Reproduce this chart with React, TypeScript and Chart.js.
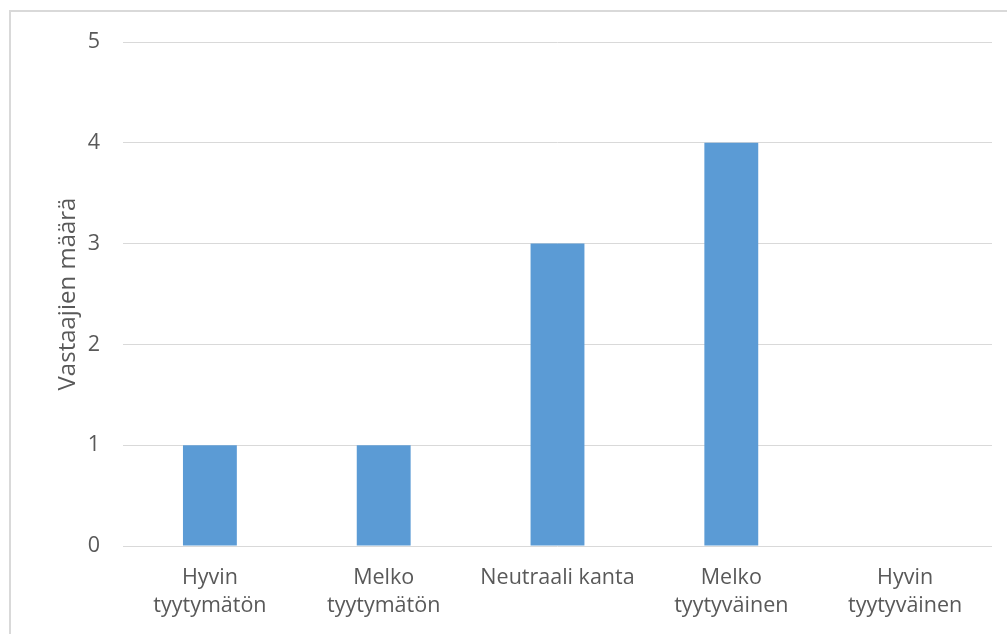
import React, { useEffect, useRef } from "react";
import { Chart, registerables } from "chart.js";

Chart.register(...registerables);

const categories: string[][] = [
  ["Hyvin", "tyytymätön"],
  ["Melko", "tyytymätön"],
  ["Neutraali kanta"],
  ["Melko", "tyytyväinen"],
  ["Hyvin", "tyytyväinen"],
];
const respondents: number[] = [1, 1, 3, 4, 0];
const yTicks: number[] = [0, 1, 2, 3, 4, 5];
const yTitle = "Vastaajien määrä";

const FONT = "'Open Sans', 'Noto Sans', sans-serif";
const TEXT = "#595959";
const GRID = "#d9d9d9";
const BAR = "#5b9bd5";

export default function App() {
  const ref = useRef<HTMLCanvasElement | null>(null);

  useEffect(() => {
    if (!ref.current) return;
    const chart = new Chart(ref.current, {
      type: "bar",
      data: {
        labels: categories,
        datasets: [
          {
            data: respondents,
            backgroundColor: BAR,
            borderWidth: 0,
            barPercentage: 0.31,
            categoryPercentage: 1,
          },
        ],
      },
      options: {
        animation: false,
        responsive: false,
        devicePixelRatio: 1,
        layout: { padding: { top: 42, right: 15, left: 0, bottom: 0 } },
        plugins: {
          legend: { display: false },
          tooltip: { enabled: false },
        },
        scales: {
          x: {
            grid: { display: false },
            border: { display: false },
            ticks: {
              color: TEXT,
              font: { family: FONT, size: 21.5, lineHeight: 1.3 },
              padding: 10,
              maxRotation: 0,
              autoSkip: false,
            },
            afterFit: (scale: any) => {
              scale.height = 88;
            },
          },
          y: {
            min: 0,
            max: 5,
            afterBuildTicks: (scale: any) => {
              scale.ticks = yTicks.map((v) => ({ value: v }));
            },
            grid: { color: GRID, lineWidth: 1, drawTicks: false },
            border: { display: false },
            ticks: {
              color: TEXT,
              font: { family: FONT, size: 21.5 },
              padding: 23,
            },
            title: {
              display: true,
              text: yTitle,
              color: TEXT,
              font: { family: FONT, size: 24 },
              padding: { top: 54, bottom: 0 },
            },
            afterFit: (scale: any) => {
              scale.width = 123;
            },
          },
        },
      },
    });
    return () => chart.destroy();
  }, []);

  return (
    <div
      style={{
        position: "fixed",
        left: 0,
        top: 0,
        width: 1007,
        height: 634,
        overflow: "hidden",
        background: "#ffffff",
      }}
    >
      <div
        style={{
          position: "absolute",
          left: 9,
          top: 10,
          width: 1100,
          height: 700,
          border: `2px solid ${GRID}`,
        }}
      />
      <canvas
        ref={ref}
        width={1007}
        height={634}
        style={{ position: "absolute", left: 0, top: 0 }}
      />
    </div>
  );
}
